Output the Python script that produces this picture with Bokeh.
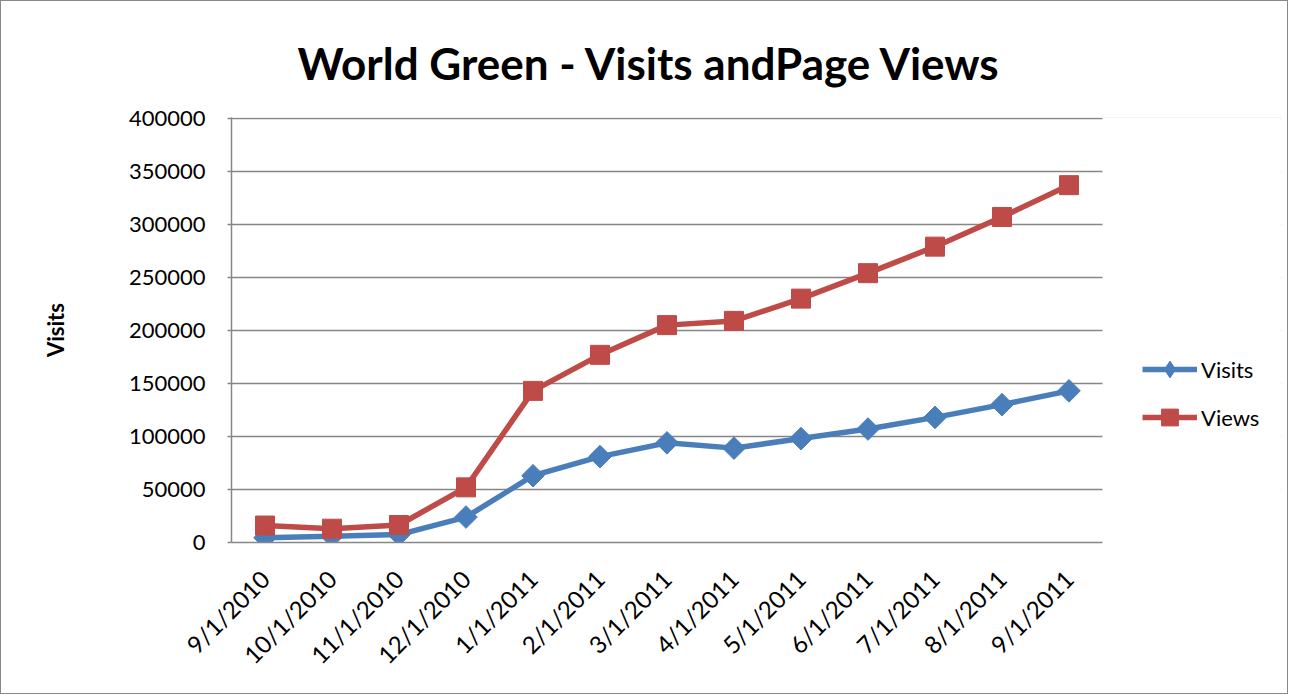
import math
from bokeh.plotting import figure
from bokeh.models import (Range1d, SingleIntervalTicker, FixedTicker, NumeralTickFormatter,
                          Legend, LegendItem, BoxAnnotation, ColumnDataSource)
from bokeh.embed import file_html
from bokeh.resources import INLINE

categories = ["9/1/2010", "10/1/2010", "11/1/2010", "12/1/2010", "1/1/2011", "2/1/2011",
              "3/1/2011", "4/1/2011", "5/1/2011", "6/1/2011", "7/1/2011", "8/1/2011", "9/1/2011"]
visits = [4500, 6000, 7500, 24000, 63000, 81000, 94000, 89000, 98000, 107000, 118000, 130000, 143000]
views = [16000, 13000, 16500, 52000, 143000, 177000, 205000, 209000, 230000, 254000, 279000, 307000, 337000]

BLUE = "#4A7EBB"
RED = "#BE4B48"
FONT = "Lato"

idx = list(range(len(categories)))
src = ColumnDataSource(dict(x=idx, cat=categories, visits=visits, views=views))

n = len(categories)
W, H = 1288, 694
LEFT, RIGHT, TOP, BOTTOM = 230, 8, 116, 153
frame_w = W - LEFT - RIGHT
cat_px = 871 / n  # pixel width of one category slot
x_end = -0.5 + frame_w / cat_px

p = figure(x_range=Range1d(-0.5, x_end), y_range=Range1d(0, 400800),
           width=W, height=H, output_backend="svg", toolbar_location=None,
           min_border_left=LEFT, min_border_right=RIGHT, min_border_top=TOP, min_border_bottom=BOTTOM)
p.styles = {"border": "1.5px solid #888888"}

p.title.text = "World Green - Visits andPage Views"
p.title.text_font = FONT
p.title.text_font_size = "44px"
p.title.text_font_style = "bold"
p.title.text_color = "#000000"
p.title.align = "left"
p.title.vertical_align = "middle"
p.title.offset = 66
p.title.standoff = 56

p.outline_line_color = None
p.xgrid.grid_line_color = None
p.ygrid.grid_line_color = "#868686"
p.ygrid.grid_line_width = 1.5

# white box hiding gridlines right of the plot area (legend area)
p.add_layout(BoxAnnotation(left=n - 0.5, fill_color="white", fill_alpha=1,
                           line_color=None, level="underlay"))

p.yaxis.ticker = SingleIntervalTicker(interval=50000)
p.yaxis.formatter = NumeralTickFormatter(format="0")
p.yaxis.axis_line_color = "#868686"
p.yaxis.axis_line_width = 1.5
p.yaxis.major_tick_line_color = "#868686"
p.yaxis.major_tick_line_width = 1.5
p.yaxis.major_tick_in = 0
p.yaxis.major_tick_out = 4
p.yaxis.minor_tick_line_color = None
p.yaxis.major_label_text_font = FONT
p.yaxis.major_label_text_font_size = "22px"
p.yaxis.major_label_text_color = "#000000"
p.yaxis.major_label_standoff = 22
p.yaxis.axis_label = "Visits"
p.yaxis.axis_label_text_font = FONT
p.yaxis.axis_label_text_font_size = "22px"
p.yaxis.axis_label_text_font_style = "bold"
p.yaxis.axis_label_text_color = "#000000"
p.yaxis.axis_label_standoff = 57

p.xaxis.ticker = FixedTicker(ticks=idx)
p.xaxis.major_label_overrides = {i: c for i, c in zip(idx, categories)}
p.xaxis.bounds = (-0.5, n - 0.5)
p.xaxis.axis_line_color = "#868686"
p.xaxis.axis_line_width = 1.5
p.xaxis.major_tick_line_color = None
p.xaxis.minor_tick_line_color = None
p.xaxis.major_label_orientation = math.pi / 4
p.xaxis.major_label_text_font = FONT
p.xaxis.major_label_text_font_size = "24px"
p.xaxis.major_label_text_color = "#000000"
p.xaxis.major_label_standoff = 26

l1 = p.line("x", "visits", source=src, line_color=BLUE, line_width=5.5)
# tiny diamond renderer (hidden under the real markers) used only for the legend glyph
leg_diamond = p.scatter("x", "visits", source=src, marker="diamond", size=0.1,
                        fill_color=BLUE, line_color=BLUE)
s1 = p.scatter("x", "visits", source=src, marker="square", angle=math.pi / 4, size=16,
               fill_color=BLUE, line_color=BLUE)
l2 = p.line("x", "views", source=src, line_color=RED, line_width=5.5)
s2 = p.scatter("x", "views", source=src, marker="square", size=19, fill_color=RED, line_color=RED)

legend = Legend(items=[LegendItem(label="Visits", renderers=[l1, leg_diamond]),
                       LegendItem(label="Views", renderers=[l2, s2])],
                location=(911, 104), orientation="vertical")
legend.border_line_color = None
legend.background_fill_alpha = 0
legend.label_text_font = FONT
legend.label_text_font_size = "22px"
legend.label_text_color = "#000000"
legend.glyph_width = 55
legend.glyph_height = 42
legend.spacing = 6
legend.label_standoff = 4
legend.padding = 0
legend.margin = 0
p.add_layout(legend, "center")

open("out.html", "w").write(file_html(p, INLINE))
